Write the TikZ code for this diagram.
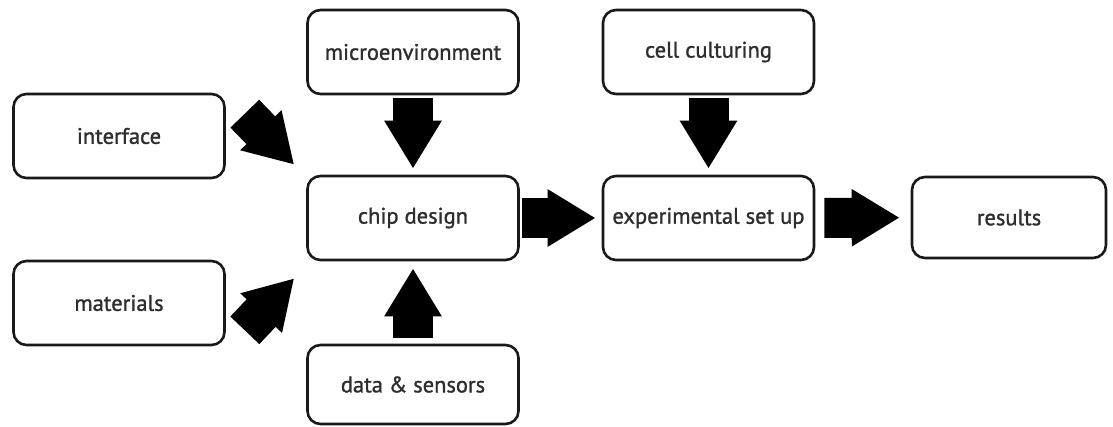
\documentclass[tikz,border=0pt]{standalone}
\usepackage{fontspec}
\setmainfont{PT Sans}
\newfontfamily\boxfont{PT Sans}[FakeBold=1.2]
\usetikzlibrary{arrows.meta,calc}
\begin{document}
\begin{tikzpicture}[x=1pt,y=-1pt,
  box/.style={draw=black!90, line width=2.6pt, rounded corners=13pt,
    minimum width=211pt, minimum height=84pt, inner sep=0pt,
    font=\boxfont\fontsize{22.5}{25}\selectfont, text=black!82, fill=white},
  blockarrow/.style={line width=40pt, draw=black,
    -{Triangle[length=48pt,width=54pt]}}]
\useasboundingbox (0,0) rectangle (1113,426);
\node[box] (interface) at (119,136) {interface};
\node[box] (materials) at (119,303) {materials};
\node[box] (micro) at (413,52) {microenvironment};
\node[box] (chip) at (413,218) {chip design};
\node[box, minimum height=79pt] (data) at (413,384.5) {data \& sensors};
\node[box] (cell) at (708.5,52) {cell culturing};
\node[box] (exp) at (708.5,218) {experimental set up};
\node[box, minimum width=194pt, minimum height=81pt] (results) at (1009,217.5) {results};
\coordinate (ia) at ($(interface.north east)+(19,21)$);
\coordinate (ib) at ($(chip.north west)+(-12,-10)$);
\coordinate (ma) at ($(materials.south east)+(19,-16)$);
\coordinate (mb) at ($(chip.south west)+(-12,17)$);
\draw[blockarrow] (ia) -- (ib);
\draw[blockarrow] (ma) -- (mb);
\draw[blockarrow, shorten <=3pt, shorten >=6pt] (micro) -- (chip);
\draw[blockarrow, shorten <=3pt, shorten >=6pt] (cell) -- (exp);
\draw[blockarrow, shorten <=6pt, shorten >=7pt] (data) -- (chip);
\draw[blockarrow, shorten <=2pt, shorten >=6pt] (chip) -- (exp);
\draw[blockarrow, shorten <=9pt, shorten >=11pt] (exp) -- (results);
\end{tikzpicture}
\end{document}
